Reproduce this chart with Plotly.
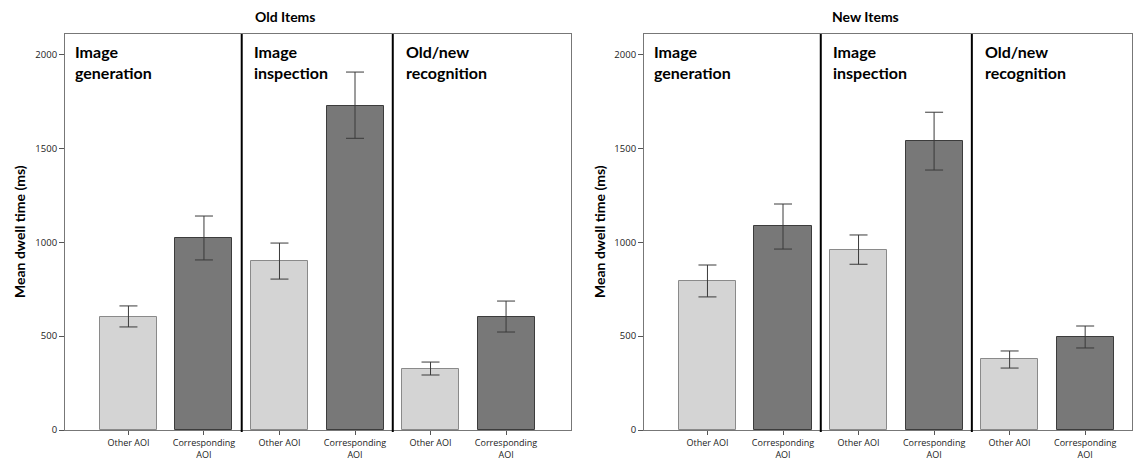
import plotly.graph_objects as go

# ---- data ----
tick_labels = ["Other AOI", "Corresponding<br>AOI", "Other AOI", "Corresponding<br>AOI", "Other AOI", "Corresponding<br>AOI"]
bar_kind = ["other", "corr", "other", "corr", "other", "corr"]
section_labels = ["Image<br>generation", "Image<br>inspection", "Old/new<br>recognition"]

old_mean = [602, 1023, 900, 1728, 325, 602]
old_upper = [661, 1140, 996, 1907, 362, 687]
old_lower = [549, 906, 804, 1554, 293, 522]

new_mean = [794, 1087, 959, 1538, 378, 495]
new_upper = [879, 1204, 1039, 1693, 421, 554]
new_lower = [709, 964, 883, 1385, 330, 437]

panel_titles = ["Old Items", "New Items"]
y_title = "Mean dwell time (ms)"
y_ticks = [0, 500, 1000, 1500, 2000]

W, H = 1142, 459
FONT = "Lato"

fill = {"other": "#d4d4d4", "corr": "#787878"}
edge = {"other": "#8a8a8a", "corr": "#3c3c3c"}

fig = go.Figure()
positions = list(range(6))

panels = [
    dict(mean=old_mean, up=old_upper, lo=old_lower, xa="x", ya="y",
         px=(65, 571), xr=(-0.84, 5.86), title_x=285),
    dict(mean=new_mean, up=new_upper, lo=new_lower, xa="x2", ya="y2",
         px=(644, 1132), xr=(-0.84, 5.62), title_x=865),
]

y_bottom_px, y_top_px = 430, 34
ydom = [1 - y_bottom_px / H, 1 - y_top_px / H]
yrange = [0, 2000 * (y_bottom_px - y_top_px) / (y_bottom_px - 54.6)]

for pi, p in enumerate(panels):
    fig.add_trace(go.Bar(
        x=positions, y=p["mean"], width=0.755,
        marker=dict(color=[fill[k] for k in bar_kind],
                    line=dict(color=[edge[k] for k in bar_kind], width=1)),
        error_y=dict(type="data", symmetric=False,
                     array=[u - m for u, m in zip(p["up"], p["mean"])],
                     arrayminus=[m - l for m, l in zip(p["mean"], p["lo"])],
                     color="#3a3a3a", thickness=1, width=9),
        xaxis=p["xa"], yaxis=p["ya"], showlegend=False, hoverinfo="skip",
    ))
    suffix = "" if pi == 0 else "2"
    xdom = [p["px"][0] / W, p["px"][1] / W]
    fig.layout["xaxis" + suffix] = dict(
        domain=xdom, range=list(p["xr"]), tickvals=positions, ticktext=tick_labels,
        ticks="outside", ticklen=4, tickcolor="#555", showline=True, linecolor="#777",
        linewidth=1, mirror=True, showgrid=False, zeroline=False, automargin=False,
        tickfont=dict(family="Open Sans", size=9, color="#222"),
        anchor="y" + suffix, fixedrange=True,
    )
    fig.layout["yaxis" + suffix] = dict(
        domain=ydom, range=yrange, tickvals=y_ticks,
        ticks="outside", ticklen=5, tickcolor="#555", showline=True, linecolor="#777",
        linewidth=1, mirror=True, showgrid=False, zeroline=False, automargin=False,
        tickfont=dict(family="Open Sans", size=9.5, color="#222"),
        anchor="x" + suffix, fixedrange=True,
    )
    for xb in (1.5, 3.5):
        fig.add_shape(type="line", xref=p["xa"], yref=p["ya"] + " domain",
                      x0=xb, x1=xb, y0=-0.005, y1=1, line=dict(color="black", width=2))
    for si, lab in enumerate(section_labels):
        fig.add_annotation(text=lab, xref=p["xa"], yref=p["ya"] + " domain",
                           x=[-0.73, 1.63, 3.645][si], y=0.986, xanchor="left", yanchor="top",
                           showarrow=False, align="left",
                           font=dict(family=FONT, size=16, color="black", weight="bold"))
    fig.add_annotation(text=panel_titles[pi], xref="paper", yref="paper",
                       x=p["title_x"] / W, y=1 - 17 / H, xanchor="center", yanchor="middle",
                       showarrow=False,
                       font=dict(family=FONT, size=14, color="black", weight="bold"))
    fig.add_annotation(text=y_title, xref="paper", yref="paper",
                       x=(19 + (0 if pi == 0 else 580)) / W, y=1 - 232 / H,
                       xanchor="center", yanchor="middle", textangle=-90,
                       showarrow=False,
                       font=dict(family=FONT, size=14, color="black", weight="bold"))

fig.update_layout(
    width=W, height=H, margin=dict(l=0, r=0, t=0, b=0),
    paper_bgcolor="white", plot_bgcolor="white", bargap=0,
)

fig.write_html("out.html", config={"displayModeBar": False},
               post_script="document.body.style.margin='0';document.body.style.overflow='hidden';")
